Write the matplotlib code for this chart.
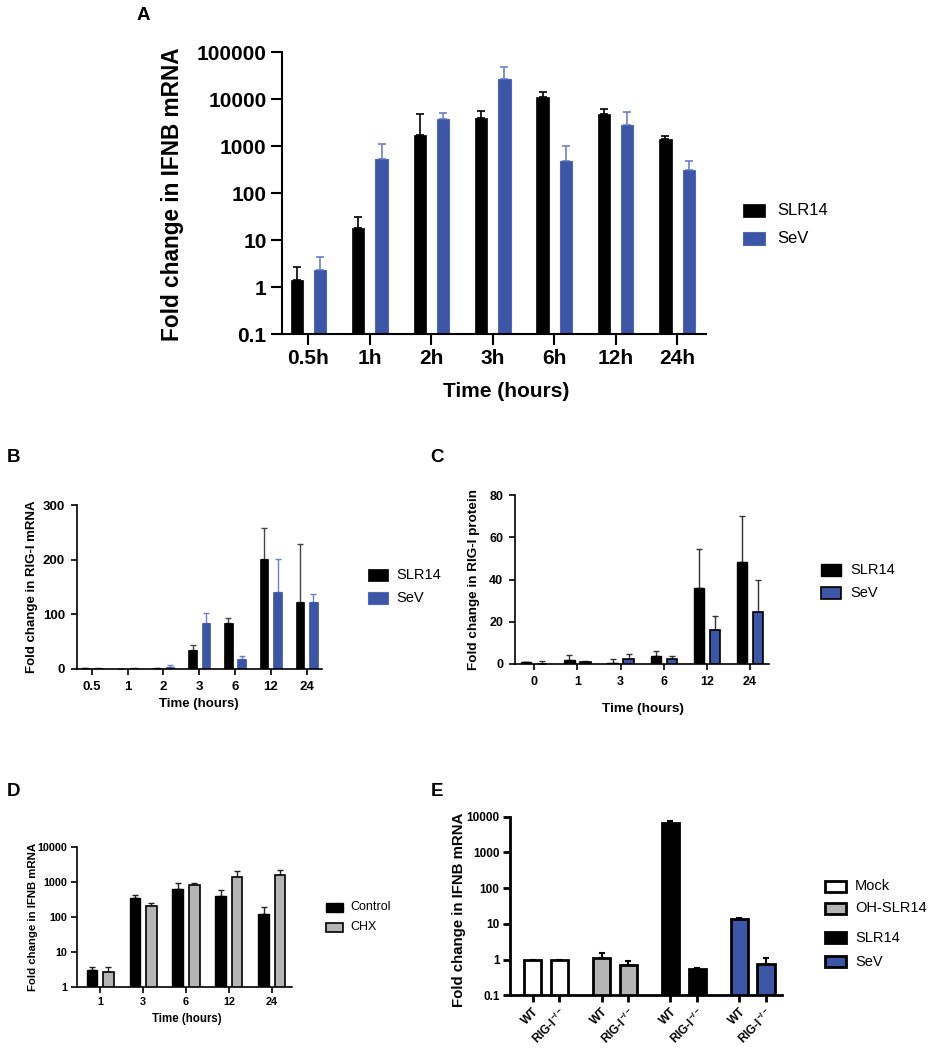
import numpy as np
import matplotlib
matplotlib.use("Agg")
import matplotlib.pyplot as plt
from matplotlib.patches import Rectangle
from matplotlib.ticker import FixedLocator, FixedFormatter, NullLocator

plt.rcParams['font.family'] = ['Liberation Sans', 'DejaVu Sans']
plt.rcParams['mathtext.fontset'] = 'custom'
plt.rcParams['mathtext.rm'] = 'Liberation Sans:bold'
plt.rcParams['mathtext.bf'] = 'Liberation Sans:bold'

# ---------------- data ----------------
# Panel A
a_labels = ["0.5h", "1h", "2h", "3h", "6h", "12h", "24h"]
a_slr14 = [1.4, 18.5, 1770, 4070, 10900, 4790, 1400]
a_slr14_sd = [1.3, 13, 3100, 1670, 3650, 1540, 280]
a_sev = [2.35, 527, 3750, 27100, 493, 2890, 316]
a_sev_sd = [2.05, 570, 1450, 22600, 540, 2570, 168]
a_yticks = [0.1, 1, 10, 100, 1000, 10000, 100000]
a_yticklabels = ["0.1", "1", "10", "100", "1000", "10000", "100000"]

# Panel B
b_labels = ["0.5", "1", "2", "3", "6", "12", "24"]
b_slr14 = [1.0, 0.3, 1.2, 33.7, 84.5, 201, 123]
b_slr14_sd = [0.3, 0, 0.3, 10.3, 8, 58, 106.6]
b_sev = [1.2, 1.5, 4.0, 84, 17, 141, 123]
b_sev_sd = [0.5, 0.3, 2.0, 18, 7, 61, 15]

# Panel C
c_labels = ["0", "1", "3", "6", "12", "24"]
c_slr14 = [0.8, 1.9, 0.4, 3.6, 36, 48.2]
c_slr14_sd = [0, 2.4, 1.8, 2.4, 18.7, 22.2]
c_sev = [0.2, 1.0, 2.4, 2.5, 16.3, 24.8]
c_sev_sd = [1.4, 0.6, 2.3, 1.5, 6.5, 15]

# Panel D
d_labels = ["1", "3", "6", "12", "24"]
d_control = [3.1, 357, 620, 398, 125]
d_control_sd = [0.55, 78, 296, 193, 68]
d_chx = [2.74, 206, 803, 1420, 1550]
d_chx_sd = [1.0, 51, 154, 597, 604]
d_yticks = [1, 10, 100, 1000, 10000]
d_yticklabels = ["1", "10", "100", "1000", "10000"]

# Panel E
e_groups = ["Mock", "OH-SLR14", "SLR14", "SeV"]
e_ticklabels = ["WT", r"RIG-I$^{-/-}$"]
e_mock = [1.0, 1.0]
e_mock_sd = [0, 0]
e_oh = [1.13, 0.71]
e_oh_sd = [0.37, 0.2]
e_slr14 = [6800, 0.56]
e_slr14_sd = [930, 0.02]
e_sev = [14, 0.74]
e_sev_sd = [0.9, 0.39]
e_yticks = [0.1, 1, 10, 100, 1000, 10000]
e_yticklabels = ["0.1", "1", "10", "100", "1000", "10000"]

# ---------------- style ----------------
BLUE = '#3c55a5'
BLUE_ERR = '#6f80c6'
GREY = '#b5b5b5'

W, H = 933, 1050
fig = plt.figure(figsize=(W / 100, H / 100), dpi=100)


def ax_px(x0, x1, y0, y1):
    return fig.add_axes([x0 / W, 1 - y1 / H, (x1 - x0) / W, (y1 - y0) / H])


def style(ax, lw, tl, tpad, fs_tick):
    for s in ['top', 'right']:
        ax.spines[s].set_visible(False)
    for s in ['left', 'bottom']:
        ax.spines[s].set_linewidth(lw)
    ax.tick_params(axis='both', which='major', width=lw, length=tl, pad=tpad,
                   labelsize=fs_tick, direction='out')
    for lab in ax.get_xticklabels() + ax.get_yticklabels():
        lab.set_fontweight('bold')


def set_xlabel_px(ax, text, fs, xc, ytop):
    ax.set_xlabel(text, fontsize=fs, fontweight='bold')
    bb = ax.get_position()
    x = (xc / W - bb.x0) / bb.width
    y = ((1 - ytop / H) - bb.y0) / bb.height
    ax.xaxis.set_label_coords(x, y)


def set_ylabel_px(ax, text, fs, xright, yc):
    # rotated label: its anchor (text bottom) is the visual right edge
    ax.set_ylabel(text, fontsize=fs, fontweight='bold')
    bb = ax.get_position()
    x = (xright / W - bb.x0) / bb.width
    y = ((1 - yc / H) - bb.y0) / bb.height
    ax.yaxis.set_label_coords(x, y)


def legend_px(items, x0, w, tops, h, tx, fs):
    for (lab, fc, ec, lw), t in zip(items, tops):
        fig.add_artist(Rectangle((x0 / W, 1 - (t + h) / H), w / W, h / H,
                                 transform=fig.transFigure, facecolor=fc,
                                 edgecolor=ec, linewidth=lw))
        fig.text(tx / W, 1 - (t + h / 2) / H, lab, fontsize=fs, va='center',
                 ha='left')


def bars(ax, x, vals, sd, width, color, ec, elw, errc, capsize, errlw):
    vals = np.asarray(vals, float)
    sd = np.asarray(sd, float)
    ax.bar(x, vals, width=width, color=color, edgecolor=ec, linewidth=elw,
           zorder=2)
    ax.errorbar(x, vals, yerr=[np.zeros_like(sd), sd], fmt='none',
                ecolor=errc, elinewidth=errlw, capsize=capsize,
                capthick=errlw, zorder=1)


# ---------------- Panel A ----------------
axA = ax_px(282, 706, 52.3, 334)
xa = np.arange(len(a_labels))
bars(axA, xa - 0.19, a_slr14, a_slr14_sd, 0.2, 'black', 'black', 0.5, 'black', 3, 1.2)
bars(axA, xa + 0.19, a_sev, a_sev_sd, 0.2, BLUE, '#5068b5', 0.8, BLUE_ERR, 3, 1.2)
axA.set_yscale('log')
axA.set_ylim(0.1, 100000)
axA.set_xlim(-0.43, 6.47)
axA.yaxis.set_major_locator(FixedLocator(a_yticks))
axA.yaxis.set_major_formatter(FixedFormatter(a_yticklabels))
axA.yaxis.set_minor_locator(NullLocator())
axA.set_xticks(xa)
axA.set_xticklabels(a_labels)
style(axA, 1.5, 8, 3, 15)
set_xlabel_px(axA, "Time (hours)", 15, 506, 382)
set_ylabel_px(axA, "Fold change in IFNB mRNA", 16.3, 184, 194)
legend_px([("SLR14", 'black', 'black', 0.5), ("SeV", BLUE, '#5068b5', 0.8)],
          743, 22, [204, 232], 13, 777, 12)

# ---------------- Panel B ----------------
axB = ax_px(76.7, 321.7, 505.3, 668.7)
xb = np.arange(len(b_labels))
bars(axB, xb - 0.187, b_slr14, b_slr14_sd, 0.243, 'black', 'black', 0.5, '#444444', 2, 1.0)
bars(axB, xb + 0.187, b_sev, b_sev_sd, 0.243, BLUE, BLUE, 0.5, BLUE_ERR, 2, 1.0)
axB.set_ylim(0, 300)
axB.set_xlim(-0.42, 6.42)
axB.set_yticks([0, 100, 200, 300])
axB.set_xticks(xb)
axB.set_xticklabels(b_labels)
style(axB, 1.2, 4.5, 4, 9.5)
set_xlabel_px(axB, "Time (hours)", 9.5, 199, 698)
set_ylabel_px(axB, "Fold change in RIG-I mRNA", 9.5, 38, 587)
legend_px([("SLR14", 'black', 'black', 0.5), ("SeV", BLUE, '#5068b5', 0.8)],
          368, 20, [569, 592], 12, 396, 10.5)

# ---------------- Panel C ----------------
axC = ax_px(515, 769, 495.3, 664)
xc = np.arange(len(c_labels))
bars(axC, xc - 0.186, c_slr14, c_slr14_sd, 0.24, 'black', 'black', 1.0, '#333333', 2, 1.0)
bars(axC, xc + 0.186, c_sev, c_sev_sd, 0.24, BLUE, 'black', 1.2, '#333333', 2, 1.0)
axC.set_ylim(0, 80)
axC.set_xlim(-0.447, 5.44)
axC.set_yticks([0, 20, 40, 60, 80])
axC.set_xticks(xc)
axC.set_xticklabels(c_labels)
style(axC, 1.2, 4.5, 4, 9)
set_xlabel_px(axC, "Time (hours)", 9.7, 643, 703)
set_ylabel_px(axC, "Fold change in RIG-I protein", 9.7, 480, 580)
legend_px([("SLR14", 'black', 'black', 1.0), ("SeV", BLUE, 'black', 1.2)],
          821, 20, [564, 587], 12, 850, 10.5)

# ---------------- Panel D ----------------
axD = ax_px(76.7, 292.3, 847, 987)
xd = np.arange(len(d_labels))
bars(axD, xd - 0.19, d_control, d_control_sd, 0.25, 'black', 'black', 1.0, '#222222', 2, 1.0)
bars(axD, xd + 0.19, d_chx, d_chx_sd, 0.25, GREY, 'black', 1.2, '#222222', 2, 1.0)
axD.set_yscale('log')
axD.set_ylim(1, 10000)
axD.set_xlim(-0.55, 4.48)
axD.yaxis.set_major_locator(FixedLocator(d_yticks))
axD.yaxis.set_major_formatter(FixedFormatter(d_yticklabels))
axD.yaxis.set_minor_locator(NullLocator())
axD.set_xticks(xd)
axD.set_xticklabels(d_labels)
style(axD, 1.2, 4, 3, 7.8)
set_xlabel_px(axD, "Time (hours)", 8.3, 187, 1013)
set_ylabel_px(axD, "Fold change in IFNB mRNA", 8.2, 38, 917)
legend_px([("Control", 'black', 'black', 1.0), ("CHX", GREY, 'black', 1.2)],
          326, 17, [903, 923], 9, 350, 9)

# ---------------- Panel E ----------------
axE = ax_px(510, 782.3, 816.7, 995.3)
e_vals = [e_mock, e_oh, e_slr14, e_sev]
e_sds = [e_mock_sd, e_oh_sd, e_slr14_sd, e_sev_sd]
e_colors = ['white', GREY, 'black', BLUE]
e_pos = []
for g, (v, s, c) in enumerate(zip(e_vals, e_sds, e_colors)):
    xp = g * 2.58 + np.arange(2)
    e_pos.extend(xp)
    bars(axE, xp, v, s, 0.64, c, 'black', 2.0, 'black', 2.5, 1.5)
axE.set_yscale('log')
axE.set_ylim(0.1, 10000)
axE.set_xlim(-0.85, 9.35)
axE.yaxis.set_major_locator(FixedLocator(e_yticks))
axE.yaxis.set_major_formatter(FixedFormatter(e_yticklabels))
axE.yaxis.set_minor_locator(NullLocator())
axE.set_xticks(e_pos)
axE.set_xticklabels(e_ticklabels * 4, rotation=45, ha='right',
                    rotation_mode='anchor')
style(axE, 2.0, 5, 2.5, 8.5)
set_ylabel_px(axE, "Fold change in IFNB mRNA", 10.8, 466, 910)
legend_px([(n, c, 'black', 2.0) for n, c in zip(e_groups, e_colors)],
          825, 21, [881, 903, 932, 956], 11, 855, 10.5)

# ---------------- panel letters ----------------
for lab, x, y in [("A", 143, 16), ("B", 13, 457), ("C", 437, 457),
                  ("D", 13, 791), ("E", 437, 791)]:
    fig.text(x / W, 1 - y / H, lab, fontsize=13.5, fontweight='bold',
             ha='center', va='center')

fig.savefig("out.png", dpi=100)
